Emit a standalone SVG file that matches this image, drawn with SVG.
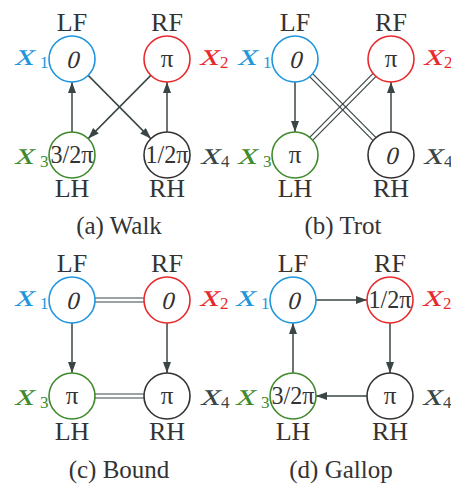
<svg xmlns="http://www.w3.org/2000/svg" width="451" height="492" viewBox="0 0 451 492">
<style>
text{font-family:"Liberation Serif","Times New Roman",serif;fill:#333}
.lbl{font-size:26px;text-anchor:middle}
.cap{font-size:25px;text-anchor:middle}
.val{font-size:25px;text-anchor:middle}
.vx{font-size:32px}
.sub{font-size:17px}
.blue{fill:#1e96dc}.red{fill:#e8292c}.green{fill:#3f8a2c}.dark{fill:#3a4545}
circle{fill:#fff;stroke-width:1.6}
.cb{stroke:#1e96dc}.cr{stroke:#e8292c}.cg{stroke:#3f8a2c}.ck{stroke:#333}
.a{stroke:#3a4545;stroke-width:1.5;fill:none;marker-end:url(#ah)}
.d{stroke:#3a4545;stroke-width:1.2;fill:none}
</style>
<defs>
<marker id="ah" markerUnits="userSpaceOnUse" markerWidth="12" markerHeight="9" refX="11" refY="4" orient="auto">
<path d="M0,0 L11,4 L0,8 z" fill="#3a4545"/>
</marker>
</defs>

<g id="connectors">
<line class="a" x1="72" y1="132" x2="72" y2="82"/>
<line class="a" x1="167" y1="132" x2="167" y2="82"/>
<line class="a" x1="88.2" y1="75.4" x2="150.8" y2="138.6"/>
<line class="a" x1="150.8" y1="75.4" x2="88.2" y2="138.6"/>
<line class="a" x1="295" y1="82" x2="295" y2="132"/>
<line class="a" x1="391" y1="132" x2="391" y2="82"/>
<line class="d" x1="312.6" y1="73.6" x2="376.8" y2="138.4"/>
<line class="d" x1="309.4" y1="76.4" x2="373.6" y2="141.2"/>
<line class="d" x1="373.6" y1="72.8" x2="309.4" y2="137.6"/>
<line class="d" x1="376.8" y1="75.6" x2="312.6" y2="140.4"/>
<line class="a" x1="72" y1="323" x2="72" y2="373"/>
<line class="a" x1="167" y1="323" x2="167" y2="373"/>
<line class="d" x1="95" y1="298" x2="144" y2="298"/>
<line class="d" x1="95" y1="302" x2="144" y2="302"/>
<line class="d" x1="95" y1="394" x2="144" y2="394"/>
<line class="d" x1="95" y1="398" x2="144" y2="398"/>
<line class="a" x1="316" y1="300" x2="367" y2="300"/>
<line class="a" x1="390" y1="323" x2="390" y2="373"/>
<line class="a" x1="367" y1="396" x2="316" y2="396"/>
<line class="a" x1="293" y1="373" x2="293" y2="323"/>
</g>

<!-- panel a -->
<g id="a-LF"><circle class="cb" cx="72" cy="59" r="23"/><text class="val" transform="translate(72,68) skewX(-14)">0</text><text class="lbl" x="72" y="31">LF</text><text class="vx blue" transform="translate(14,65) skewX(-16) scale(1.2,1)">x</text><text class="sub blue" x="40" y="68">1</text></g>
<g id="a-RF"><circle class="cr" cx="167" cy="59" r="23"/><text class="val" x="167" y="67">π</text><text class="lbl" x="167" y="31">RF</text><text class="vx red" transform="translate(199,65) skewX(-16) scale(1.2,1)">x</text><text class="sub red" x="220" y="68">2</text></g>
<g id="a-LH"><circle class="cg" cx="72" cy="155" r="23"/><text class="val" x="72" y="163" textLength="43" lengthAdjust="spacingAndGlyphs">3/2π</text><text class="lbl" x="72" y="197">LH</text><text class="vx green" transform="translate(14,164) skewX(-16) scale(1.2,1)">x</text><text class="sub green" x="40" y="167">3</text></g>
<g id="a-RH"><circle class="ck" cx="167" cy="155" r="23"/><text class="val" x="167" y="163" textLength="43" lengthAdjust="spacingAndGlyphs">1/2π</text><text class="lbl" x="167" y="197">RH</text><text class="vx dark" transform="translate(200,164) skewX(-16) scale(1.2,1)">x</text><text class="sub dark" x="221" y="167">4</text></g>
<text class="cap" x="119" y="234">(a) Walk</text>

<!-- panel b -->
<g id="b-LF"><circle class="cb" cx="295" cy="59" r="23"/><text class="val" transform="translate(295,68) skewX(-14)">0</text><text class="lbl" x="295" y="31">LF</text><text class="vx blue" transform="translate(237,65) skewX(-16) scale(1.2,1)">x</text><text class="sub blue" x="263" y="68">1</text></g>
<g id="b-RF"><circle class="cr" cx="391" cy="59" r="23"/><text class="val" x="391" y="67">π</text><text class="lbl" x="391" y="31">RF</text><text class="vx red" transform="translate(423,65) skewX(-16) scale(1.2,1)">x</text><text class="sub red" x="444" y="68">2</text></g>
<g id="b-LH"><circle class="cg" cx="295" cy="155" r="23"/><text class="val" x="295" y="163">π</text><text class="lbl" x="295" y="197">LH</text><text class="vx green" transform="translate(237,164) skewX(-16) scale(1.2,1)">x</text><text class="sub green" x="263" y="167">3</text></g>
<g id="b-RH"><circle class="ck" cx="391" cy="155" r="23"/><text class="val" transform="translate(391,164) skewX(-14)">0</text><text class="lbl" x="391" y="197">RH</text><text class="vx dark" transform="translate(423,164) skewX(-16) scale(1.2,1)">x</text><text class="sub dark" x="444" y="167">4</text></g>
<text class="cap" x="343" y="234">(b) Trot</text>

<!-- panel c -->
<g id="c-LF"><circle class="cb" cx="72" cy="300" r="23"/><text class="val" transform="translate(72,309) skewX(-14)">0</text><text class="lbl" x="72" y="272">LF</text><text class="vx blue" transform="translate(14,306) skewX(-16) scale(1.2,1)">x</text><text class="sub blue" x="40" y="309">1</text></g>
<g id="c-RF"><circle class="cr" cx="167" cy="300" r="23"/><text class="val" transform="translate(167,309) skewX(-14)">0</text><text class="lbl" x="167" y="272">RF</text><text class="vx red" transform="translate(199,306) skewX(-16) scale(1.2,1)">x</text><text class="sub red" x="220" y="309">2</text></g>
<g id="c-LH"><circle class="cg" cx="72" cy="396" r="23"/><text class="val" x="72" y="404">π</text><text class="lbl" x="72" y="440">LH</text><text class="vx green" transform="translate(14,405) skewX(-16) scale(1.2,1)">x</text><text class="sub green" x="40" y="408">3</text></g>
<g id="c-RH"><circle class="ck" cx="167" cy="396" r="23"/><text class="val" x="167" y="404">π</text><text class="lbl" x="167" y="440">RH</text><text class="vx dark" transform="translate(200,405) skewX(-16) scale(1.2,1)">x</text><text class="sub dark" x="221" y="408">4</text></g>
<text class="cap" x="119" y="478">(c) Bound</text>

<!-- panel d -->
<g id="d-LF"><circle class="cb" cx="293" cy="300" r="23"/><text class="val" transform="translate(293,309) skewX(-14)">0</text><text class="lbl" x="293" y="272">LF</text><text class="vx blue" transform="translate(235,306) skewX(-16) scale(1.2,1)">x</text><text class="sub blue" x="261" y="309">1</text></g>
<g id="d-RF"><circle class="cr" cx="390" cy="300" r="23"/><text class="val" x="390" y="308" textLength="43" lengthAdjust="spacingAndGlyphs">1/2π</text><text class="lbl" x="390" y="272">RF</text><text class="vx red" transform="translate(422,306) skewX(-16) scale(1.2,1)">x</text><text class="sub red" x="443" y="309">2</text></g>
<g id="d-LH"><circle class="cg" cx="293" cy="396" r="23"/><text class="val" x="293" y="404" textLength="43" lengthAdjust="spacingAndGlyphs">3/2π</text><text class="lbl" x="293" y="440">LH</text><text class="vx green" transform="translate(235,405) skewX(-16) scale(1.2,1)">x</text><text class="sub green" x="261" y="408">3</text></g>
<g id="d-RH"><circle class="ck" cx="390" cy="396" r="23"/><text class="val" x="390" y="404">π</text><text class="lbl" x="390" y="440">RH</text><text class="vx dark" transform="translate(422,405) skewX(-16) scale(1.2,1)">x</text><text class="sub dark" x="443" y="408">4</text></g>
<text class="cap" x="341" y="478">(d) Gallop</text>
</svg>
